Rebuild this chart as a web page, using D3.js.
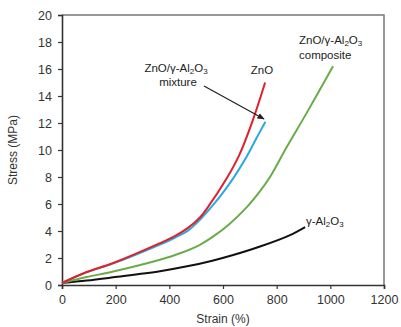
<!DOCTYPE html>
<html>
<head>
<meta charset="utf-8">
<script src="https://cdn.jsdelivr.net/npm/d3@7/dist/d3.min.js"></script>
<style>
  html, body { margin: 0; padding: 0; background: #fff; }
  svg { display: block; font-family: "Liberation Sans", Arial, Helvetica, sans-serif; }
</style>
</head>
<body>
<svg id="chart" width="401" height="327"></svg>
<script>
// Stress–strain curves: [strain %, stress MPa]
const zno = [[0,0.15],[92,0.96],[191,1.63],[365,3.1],[420,3.62],[471,4.25],[514,5.0],[545,5.8],[614,7.9],[660,9.6],[711,12.2],[757,15.0]];
const mixture = [[0,0.15],[92,0.95],[191,1.6],[365,3.0],[420,3.5],[471,4.05],[514,4.83],[564,5.95],[600,6.85],[638,7.9],[688,9.5],[720,10.7],[758,12.1]];
const composite = [[0,0.15],[92,0.59],[191,1.0],[365,1.87],[440,2.35],[514,2.98],[564,3.6],[620,4.45],[688,5.75],[738,6.95],[775,8.0],[837,10.2],[912,12.75],[1010,16.2]];
const alumina = [[0,0.15],[92,0.33],[191,0.57],[365,1.02],[471,1.4],[560,1.8],[638,2.22],[738,2.85],[850,3.7],[906,4.29]];

const xTicks = [0, 200, 400, 600, 800, 1000, 1200];
const yTicks = [0, 2, 4, 6, 8, 10, 12, 14, 16, 18, 20];

const svg = d3.select("#chart");
const m = { left: 62, right: 17, top: 15, bottom: 42 };
const W = 401, H = 327;

const x = d3.scaleLinear().domain([0, 1200]).range([m.left, W - m.right]);
const y = d3.scaleLinear().domain([0, 20]).range([H - m.bottom, m.top]);

// frame (top and right)
svg.append("path")
  .attr("d", `M${x(0)},${y(20)}H${x(1200)}V${y(0)}`)
  .attr("fill", "none").attr("stroke", "#777").attr("stroke-width", 1.5);

const xAxis = svg.append("g")
  .attr("transform", `translate(0,${y(0)})`)
  .call(d3.axisBottom(x).tickValues(xTicks).tickFormat(d3.format("d")).tickSize(4).tickPadding(6));
const yAxis = svg.append("g")
  .attr("transform", `translate(${x(0)},0)`)
  .call(d3.axisLeft(y).tickValues(yTicks).tickFormat(d3.format("d")).tickSize(4).tickPadding(6));

[xAxis, yAxis].forEach(g => {
  g.select(".domain").attr("stroke", "#333").attr("stroke-width", 1.6);
  g.selectAll(".tick line").attr("stroke", "#333").attr("stroke-width", 1.2);
  g.selectAll(".tick text").attr("fill", "#333").style("font-size", "12.5px")
    .style("font-family", "'Liberation Sans', Arial, sans-serif");
});

const line = d3.line().x(d => x(d[0])).y(d => y(d[1])).curve(d3.curveCatmullRom.alpha(0.5));

const series = [
  { data: alumina, color: "#111111" },
  { data: composite, color: "#6aab4a" },
  { data: mixture, color: "#2aa9e0" },
  { data: zno, color: "#e0202a" }
];
svg.selectAll("path.curve").data(series).enter().append("path")
  .attr("class", "curve")
  .attr("d", d => line(d.data))
  .attr("fill", "none")
  .attr("stroke", d => d.color)
  .attr("stroke-width", 2);

// axis titles
svg.append("text").attr("x", x(600)).attr("y", 323)
  .attr("text-anchor", "middle").attr("fill", "#333").style("font-size", "12px")
  .text("Strain (%)");
svg.append("text")
  .attr("transform", `translate(17,${y(10)}) rotate(-90)`)
  .attr("text-anchor", "middle").attr("fill", "#333").style("font-size", "12px")
  .text("Stress (MPa)");

// chemical-formula labels with subscripts
function formula(sel, parts) {
  parts.forEach(p => {
    const t = sel.append("tspan").text(p[0]);
    if (p[1]) t.attr("baseline-shift", "-25%").style("font-size", "8px");
  });
  return sel;
}
const lab = svg.append("g").attr("fill", "#222").style("font-size", "11.5px");

formula(lab.append("text").attr("x", 176).attr("y", 72).attr("text-anchor", "middle"),
  [["ZnO/γ-Al"], ["2", 1], ["O"], ["3", 1]]);
lab.append("text").attr("x", 178).attr("y", 86).attr("text-anchor", "middle").text("mixture");

lab.append("text").attr("x", 262).attr("y", 74).attr("text-anchor", "middle").text("ZnO");

formula(lab.append("text").attr("x", 299).attr("y", 44), [["ZnO/γ-Al"], ["2", 1], ["O"], ["3", 1]]);
lab.append("text").attr("x", 299).attr("y", 59).text("composite");

formula(lab.append("text").attr("x", 306).attr("y", 225), [["γ-Al"], ["2", 1], ["O"], ["3", 1]]);

// pointer arrow to the mixture curve
svg.append("defs").append("marker")
  .attr("id", "arrow").attr("viewBox", "0 0 10 10")
  .attr("refX", 9).attr("refY", 5)
  .attr("markerWidth", 6).attr("markerHeight", 6)
  .attr("orient", "auto")
  .append("path").attr("d", "M0,1L10,5L0,9Z").attr("fill", "#222");
svg.append("line")
  .attr("x1", 204).attr("y1", 86).attr("x2", 264).attr("y2", 119)
  .attr("stroke", "#222").attr("stroke-width", 1.2)
  .attr("marker-end", "url(#arrow)");
</script>
</body>
</html>
